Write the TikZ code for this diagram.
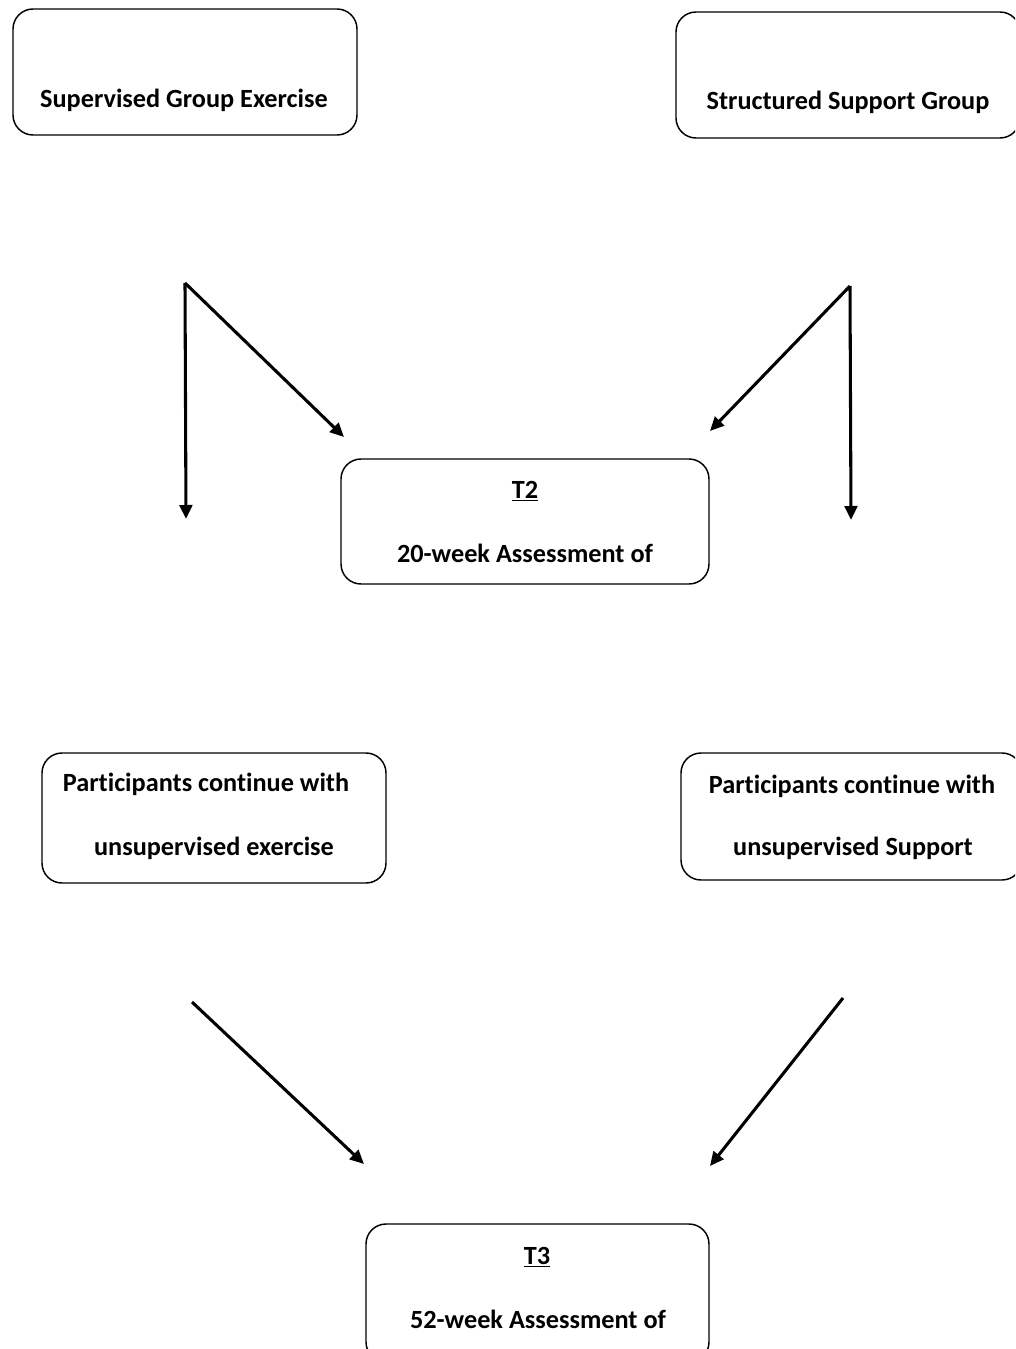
\documentclass[tikz,border=0pt]{standalone}
\usepackage{fontspec}
\setmainfont[Ligatures=NoCommon]{Carlito}
\usetikzlibrary{arrows.meta,fit}
\begin{document}
\begin{tikzpicture}[x=0.75pt,y=-0.75pt,
  box/.style={draw, line width=1.1pt, rounded corners=15pt, inner sep=0pt},
  txt/.style={font=\fontsize{19.7}{23}\selectfont\bfseries, inner sep=0pt, anchor=center},
  arr/.style={line width=2.3pt, -{Triangle[length=10.5pt,width=9.5pt]}}]
\useasboundingbox (0,0) rectangle (1015,1349);
\clip (0,0) rectangle (1015,1349);
% boxes
\node[box, fit={(13,9) (357,135)}] (sge) {};
\node[box, fit={(676,12) (1020,138)}] (ssg) {};
\node[box, fit={(341,459) (709,584)}] (t2) {};
\node[box, fit={(42,753) (386,883)}] (pl) {};
\node[box, fit={(681,753) (1022,880)}] (pr) {};
\node[box, fit={(366,1224) (709,1362)}] (t3) {};
% texts
\node[txt] (sgetxt) at (184,100) {Supervised Group Exercise};
\node[txt] (ssgtxt) at (848,102) {Structured Support Group};
\node[txt] (t2a) at (525,491) {\underline{T2}};
\node[txt] (t2b) at (525,553) {20-week Assessment of};
\node[txt] (pla) at (206,784) {Participants continue with};
\node[txt] (plb) at (214,848) {unsupervised exercise};
\node[txt] (pra) at (852,786) {Participants continue with};
\node[txt] (prb) at (853,848) {unsupervised Support};
\node[txt] (t3a) at (537,1257) {\underline{T3}};
\node[txt] (t3b) at (538,1319) {52-week Assessment of};
% arrow end points
\coordinate (l0) at (185,283);
\coordinate (l1) at (186,519);
\coordinate (l2) at (344,437);
\coordinate (r0) at (850,286);
\coordinate (r1) at (851,520);
\coordinate (r2) at (710,431);
\coordinate (b1s) at (192,1002);
\coordinate (b1e) at (364,1164);
\coordinate (b2s) at (843,998);
\coordinate (b2e) at (710,1166);
\draw[arr] (l0) -- (l1);
\draw[arr] (l0) -- (l2);
\draw[arr] (r0) -- (r2);
\draw[arr] (r0) -- (r1);
\draw[arr] (b1s) -- (b1e);
\draw[arr] (b2s) -- (b2e);
\end{tikzpicture}
\end{document}
